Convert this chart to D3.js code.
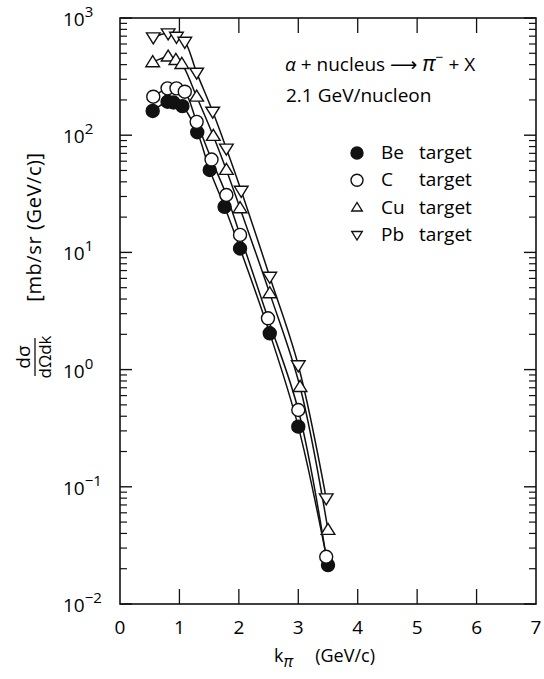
<!DOCTYPE html>
<html>
<head>
<meta charset="UTF-8">
<script src="https://d3js.org/d3.v7.min.js"></script>
<style>
  body { margin: 0; background: #fff; }
  text { font-family: "Open Sans", "DejaVu Sans", sans-serif; fill: #000; }
</style>
</head>
<body>
<svg id="chart" width="544" height="679"></svg>
<script>
// data
var beX = [0.55, 0.8, 0.9, 1.05, 1.3, 1.51, 1.76, 2.02, 2.52, 3.0, 3.5];
var beY = [161, 193, 190, 177, 106, 50.5, 24.5, 10.8, 2.04, 0.326, 0.0215];
var cX = [0.56, 0.8, 0.95, 1.09, 1.29, 1.54, 1.79, 2.02, 2.49, 3.0, 3.47];
var cY = [213, 251, 251, 235, 130, 62, 30.9, 14.1, 2.74, 0.452, 0.0253];
var cuX = [0.55, 0.81, 0.94, 1.04, 1.29, 1.57, 1.79, 2.02, 2.52, 3.03, 3.5];
var cuY = [419, 468, 438, 405, 213, 98.5, 50.5, 23.8, 4.47, 0.71, 0.0428];
var pbX = [0.56, 0.81, 0.95, 1.09, 1.29, 1.56, 1.79, 2.04, 2.52, 3.0, 3.47];
var pbY = [684, 740, 692, 628, 342, 159, 77, 33.6, 6.2, 1.09, 0.0798];
var xTicks = [0, 1, 2, 3, 4, 5, 6, 7];
var yDecades = [-2, -1, 0, 1, 2, 3];
var legendNames = ["Be", "C", "Cu", "Pb"];

var svg = d3.select("#chart");
var margin = {top: 18, right: 8, bottom: 75, left: 120};
var width = 544, height = 679;
var x = d3.scaleLinear().domain([0, 7]).range([margin.left, width - margin.right]);
var y = d3.scaleLog().domain([0.01, 1000]).range([height - margin.bottom, margin.top]);

// frame
svg.append("rect")
  .attr("x", x(0)).attr("y", y(1000))
  .attr("width", x(7) - x(0)).attr("height", y(0.01) - y(1000))
  .attr("fill", "none").attr("stroke", "#111").attr("stroke-width", 1.6);

// log ticks, inward on both sides
var minor = [];
yDecades.slice(0, -1).forEach(function (e) {
  for (var m = 2; m <= 9; m++) minor.push(m * Math.pow(10, e));
});
var major = yDecades.map(function (e) { return Math.pow(10, e); });
function yTicks(xpos, dir) {
  svg.selectAll(null).data(major).enter().append("line")
    .attr("x1", xpos).attr("x2", xpos + dir * 12)
    .attr("y1", function (d) { return y(d); }).attr("y2", function (d) { return y(d); })
    .attr("stroke", "#111").attr("stroke-width", 1.4);
  svg.selectAll(null).data(minor).enter().append("line")
    .attr("x1", xpos).attr("x2", xpos + dir * 7)
    .attr("y1", function (d) { return y(d); }).attr("y2", function (d) { return y(d); })
    .attr("stroke", "#111").attr("stroke-width", 1.2);
}
yTicks(x(0), 1);
yTicks(x(7), -1);

// x ticks, top and bottom
svg.selectAll(null).data(xTicks.slice(1, -1)).enter().append("line")
  .attr("x1", function (d) { return x(d); }).attr("x2", function (d) { return x(d); })
  .attr("y1", y(0.01)).attr("y2", y(0.01) - 15)
  .attr("stroke", "#111").attr("stroke-width", 1.3);
svg.selectAll(null).data(xTicks.slice(1, -1)).enter().append("line")
  .attr("x1", function (d) { return x(d); }).attr("x2", function (d) { return x(d); })
  .attr("y1", y(1000)).attr("y2", y(1000) + 15)
  .attr("stroke", "#111").attr("stroke-width", 1.3);

// tick labels
svg.selectAll(null).data(xTicks).enter().append("text")
  .attr("x", function (d) { return x(d); }).attr("y", y(0.01) + 30)
  .attr("text-anchor", "middle").attr("font-size", 19)
  .text(function (d) { return d; });
yDecades.forEach(function (e) {
  var t = svg.append("text").attr("x", 63).attr("y", y(Math.pow(10, e)) + 8)
    .attr("font-size", 19);
  t.append("tspan").text("10");
  t.append("tspan").attr("dy", -9).attr("font-size", 15).text(e < 0 ? "\u2212" + (-e) : e);
});

// axis titles
var xt = svg.append("text").attr("x", 274).attr("y", 662).attr("font-size", 18);
xt.append("tspan").text("k");
xt.append("tspan").attr("dy", 5).attr("font-size", 16).attr("font-style", "italic").text("\u03c0");
xt.append("tspan").attr("dy", -5).attr("dx", 22).text("(GeV/c)");

var yt = svg.append("g").attr("transform", "translate(34,0) rotate(-90)");
yt.append("text").attr("x", -357).attr("y", -4).attr("text-anchor", "middle")
  .attr("font-size", 19).text("d\u03c3");
yt.append("line").attr("x1", -376).attr("x2", -338).attr("y1", 1).attr("y2", 1)
  .attr("stroke", "#111").attr("stroke-width", 1.3);
yt.append("text").attr("x", -357).attr("y", 17).attr("text-anchor", "middle")
  .attr("font-size", 17).text("d\u03a9dk");
yt.append("text").attr("x", -227).attr("y", 7).attr("text-anchor", "middle")
  .attr("font-size", 20).attr("letter-spacing", 0.6).text("[mb/sr  (GeV/c)]");

// curves
var series = [
  {name: "Be", xs: beX, ys: beY, sym: "circleFill"},
  {name: "C", xs: cX, ys: cY, sym: "circle"},
  {name: "Cu", xs: cuX, ys: cuY, sym: "up"},
  {name: "Pb", xs: pbX, ys: pbY, sym: "down"}
];
var line = d3.line()
  .x(function (d) { return x(d[0]); })
  .y(function (d) { return y(d[1]); })
  .curve(d3.curveCatmullRom.alpha(0.5));
series.forEach(function (s) {
  var pts = s.xs.map(function (v, i) { return [v, s.ys[i]]; });
  svg.append("path").attr("d", line(pts))
    .attr("fill", "none").attr("stroke", "#111").attr("stroke-width", 1.5);
});

// markers
function marker(g, sym, px, py, r) {
  if (sym === "circleFill" || sym === "circle") {
    g.append("circle").attr("cx", px).attr("cy", py).attr("r", r)
      .attr("fill", sym === "circleFill" ? "#111" : "#fff")
      .attr("stroke", "#111").attr("stroke-width", 1.4);
  } else {
    var h = r * 1.7, w = r * 1.05;
    var pts = sym === "up"
      ? [[px, py - h * 0.6], [px - w, py + h * 0.4], [px + w, py + h * 0.4]]
      : [[px, py + h * 0.6], [px - w, py - h * 0.4], [px + w, py - h * 0.4]];
    g.append("polygon").attr("points", pts.map(function (p) { return p.join(","); }).join(" "))
      .attr("fill", "#fff").attr("stroke", "#111").attr("stroke-width", 1.4);
  }
}
series.forEach(function (s) {
  var g = svg.append("g");
  s.xs.forEach(function (v, i) { marker(g, s.sym, x(v), y(s.ys[i]), 6.5); });
});

// annotation
var ann = svg.append("text").attr("x", 285).attr("y", 71).attr("font-size", 19);
ann.append("tspan").attr("font-style", "italic").text("\u03b1");
ann.append("tspan").text(" + nucleus ");
ann.append("tspan").text("\u27f6 ");
ann.append("tspan").attr("font-style", "italic").attr("font-size", 22).text("\u03c0");
ann.append("tspan").attr("dy", -9).attr("font-size", 14).text("\u2212");
ann.append("tspan").attr("dy", 9).text(" + X");
svg.append("text").attr("x", 286).attr("y", 102).attr("font-size", 19)
  .text("2.1 GeV/nucleon");

// legend
var lg = svg.append("g");
legendNames.forEach(function (n, i) {
  var ly = 153 + i * 27.3;
  marker(lg, series[i].sym, 357, ly, i < 2 ? 6 : 5);
  lg.append("text").attr("x", 381).attr("y", ly + 6).attr("font-size", 19).text(n);
  lg.append("text").attr("x", 419).attr("y", ly + 6).attr("font-size", 19).text("target");
});
</script>
</body>
</html>
